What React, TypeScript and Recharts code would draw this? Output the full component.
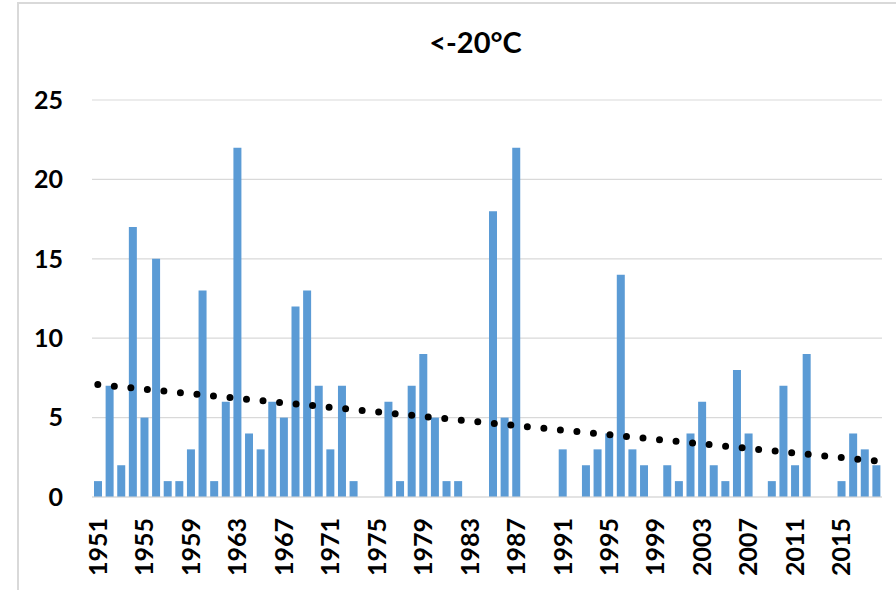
import React from "react";
import { ComposedChart, Bar, Line, XAxis, YAxis, CartesianGrid } from "recharts";

// Number of days below -20°C per year
const years: number[] = [
  1951, 1952, 1953, 1954, 1955, 1956, 1957, 1958, 1959, 1960,
  1961, 1962, 1963, 1964, 1965, 1966, 1967, 1968, 1969, 1970,
  1971, 1972, 1973, 1974, 1975, 1976, 1977, 1978, 1979, 1980,
  1981, 1982, 1983, 1984, 1985, 1986, 1987, 1988, 1989, 1990,
  1991, 1992, 1993, 1994, 1995, 1996, 1997, 1998, 1999, 2000,
  2001, 2002, 2003, 2004, 2005, 2006, 2007, 2008, 2009, 2010,
  2011, 2012, 2013, 2014, 2015, 2016, 2017, 2018,
];

const days: number[] = [
  1, 7, 2, 17, 5, 15, 1, 1, 3, 13,
  1, 6, 22, 4, 3, 6, 5, 12, 13, 7,
  3, 7, 1, 0, 0, 6, 1, 7, 9, 5,
  1, 1, 0, 0, 18, 5, 22, 0, 0, 0,
  3, 0, 2, 3, 4, 14, 3, 2, 0, 2,
  1, 4, 6, 2, 1, 8, 4, 0, 1, 7,
  2, 9, 0, 0, 1, 4, 3, 2,
];

const yTicks: number[] = [0, 5, 10, 15, 20, 25];

// Least-squares linear trend over the series
const n = days.length;
const xMean = (n - 1) / 2;
const yMean = days.reduce((a, b) => a + b, 0) / n;
let sxy = 0;
let sxx = 0;
days.forEach((v, i) => {
  sxy += (i - xMean) * (v - yMean);
  sxx += (i - xMean) * (i - xMean);
});
const slope = sxy / sxx;
const intercept = yMean - slope * xMean;

const data = years.map((year, i) => ({
  year: String(year),
  days: days[i],
  trend: intercept + slope * i,
}));

const FONT = "Lato, 'Open Sans', sans-serif";

const YearTick = (props: any) => {
  const { x, y, payload } = props;
  return (
    <g transform={`translate(${x},${y}) rotate(-90)`}>
      <text
        x={0}
        y={0}
        dy="0.36em"
        textAnchor="end"
        fontFamily={FONT}
        fontWeight={700}
        fontSize={25}
        fill="#000"
      >
        {payload.value}
      </text>
    </g>
  );
};

export default function App() {
  return (
    <div style={{ position: "absolute", left: 0, top: 0, width: 896, height: 590, background: "#fff", overflow: "hidden" }}>
      {/* chart frame */}
      <div
        style={{
          position: "absolute",
          left: 17,
          top: 2,
          width: 900,
          height: 600,
          borderLeft: "2px solid #d9d9d9",
          borderTop: "2px solid #d9d9d9",
        }}
      />
      <div
        style={{
          position: "absolute",
          left: 0,
          width: 951,
          top: 24,
          textAlign: "center",
          fontFamily: FONT,
          fontWeight: 700,
          fontSize: 29,
          lineHeight: "36px",
          color: "#000",
        }}
      >
        {"<-20°C"}
      </div>
      <div style={{ position: "absolute", left: 0, top: 0 }}>
        <ComposedChart
          width={896}
          height={590}
          data={data}
          margin={{ top: 100, right: 14, bottom: 0, left: 0 }}
          barSize={8}
        >
          <CartesianGrid vertical={false} stroke="#d9d9d9" strokeWidth={1.2} />
          <XAxis
            dataKey="year"
            interval={3}
            height={93}
            tickSize={0}
            tickMargin={21}
            tickLine={false}
            axisLine={{ stroke: "#d9d9d9", strokeWidth: 1.2 }}
            tick={<YearTick />}
          />
          <YAxis
            domain={[0, 25]}
            ticks={yTicks}
            width={92}
            tickSize={0}
            tickMargin={29}
            tickLine={false}
            axisLine={false}
            tick={{ fontFamily: FONT, fontWeight: 700, fontSize: 25, fill: "#000" }}
          />
          <Bar dataKey="days" fill="#5B9BD5" isAnimationActive={false} />
          <Line
            dataKey="trend"
            type="linear"
            stroke="#000"
            strokeWidth={7}
            strokeDasharray="0 16.6"
            strokeLinecap="round"
            dot={false}
            activeDot={false}
            isAnimationActive={false}
          />
        </ComposedChart>
      </div>
    </div>
  );
}
